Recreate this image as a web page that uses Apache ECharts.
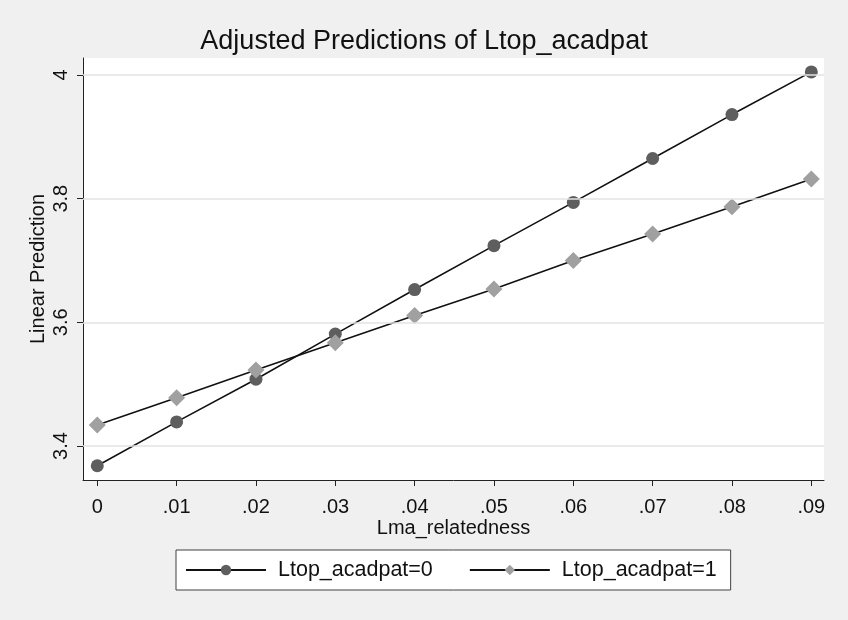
<!DOCTYPE html>
<html>
<head>
<meta charset="utf-8">
<script src="https://cdn.jsdelivr.net/npm/echarts@6/dist/echarts.min.js"></script>
<style>
  html, body { margin: 0; padding: 0; background: #f0f0f0; }
  #chart { width: 848px; height: 620px; }
</style>
</head>
<body>
<div id="chart"></div>
<script>
// Werte
const xValues = [0, 0.01, 0.02, 0.03, 0.04, 0.05, 0.06, 0.07, 0.08, 0.09];
const acadpat0 = [3.368, 3.439, 3.508, 3.581, 3.653, 3.724, 3.794, 3.865, 3.936, 4.005];
const acadpat1 = [3.434, 3.478, 3.523, 3.567, 3.611, 3.654, 3.700, 3.743, 3.787, 3.832];
const yTicks = [3.4, 3.6, 3.8, 4];
const seriesNames = ['Ltop_acadpat=0', 'Ltop_acadpat=1'];

const fontFamily = '"Liberation Sans", Arial, sans-serif';
const textColor = '#111';
const axisColor = '#222';

const chart = echarts.init(document.getElementById('chart'));

const toPairs = vals => xValues.map((x, i) => [x, vals[i]]);

const option = {
    backgroundColor: '#f0f0f0',
    textStyle: { fontFamily: fontFamily, color: textColor },
    title: {
        text: 'Adjusted Predictions of Ltop_acadpat',
        left: 'center',
        top: 28,
        padding: 0,
        textStyle: { fontFamily: fontFamily, fontSize: 27, fontWeight: 'normal', color: textColor }
    },
    grid: {
        left: 83, right: 24, top: 58, bottom: 140,
        show: true, backgroundColor: '#ffffff', borderWidth: 0
    },
    xAxis: {
        type: 'value',
        min: -0.0018,
        max: 0.0916,
        name: 'Lma_relatedness',
        nameLocation: 'middle',
        nameGap: 38,
        nameMoveOverlap: false,
        nameTextStyle: { fontFamily: fontFamily, fontSize: 20, color: textColor },
        axisLine: { show: true, onZero: false, lineStyle: { color: axisColor, width: 1 } },
        axisTick: { show: true, length: 6, lineStyle: { color: axisColor }, customValues: xValues },
        axisLabel: {
            customValues: xValues,
            margin: 17,
            fontSize: 20,
            color: textColor,
            fontFamily: fontFamily,
            formatter: v => v === 0 ? '0' : v.toFixed(2).replace(/^0\./, '.')
        },
        splitLine: { show: false }
    },
    yAxis: {
        type: 'value',
        min: 3.345,
        max: 4.0275,
        name: 'Linear Prediction',
        nameLocation: 'middle',
        nameGap: 35,
        nameMoveOverlap: false,
        nameTextStyle: { fontFamily: fontFamily, fontSize: 20, color: textColor },
        axisLine: { show: true, onZero: false, lineStyle: { color: axisColor, width: 1 } },
        axisTick: { show: true, length: 6, lineStyle: { color: axisColor }, customValues: yTicks },
        axisLabel: {
            customValues: yTicks,
            rotate: 90,
            margin: 12,
            fontSize: 20,
            color: textColor,
            fontFamily: fontFamily,
            formatter: v => String(v)
        },
        splitLine: { show: false }
    },
    legend: {
        data: seriesNames,
        left: 176,
        top: 550,
        orient: 'horizontal',
        backgroundColor: '#ffffff',
        borderColor: '#404040',
        borderWidth: 1,
        borderRadius: 0,
        padding: [9, 14, 9, 9],
        itemWidth: 80,
        itemHeight: 13,
        itemGap: 36,
        textStyle: { fontFamily: fontFamily, fontSize: 21.5, color: textColor, padding: [0, 0, 0, 7] }
    },
    series: [
        {
            name: 'grid',
            type: 'line',
            data: [],
            silent: true,
            z: 1,
            markLine: {
                silent: true,
                symbol: 'none',
                label: { show: false },
                lineStyle: { color: '#e3e3e3', width: 1.5, type: 'solid' },
                data: yTicks.map(v => ({ yAxis: v }))
            }
        },
        {
            name: seriesNames[0],
            type: 'line',
            data: toPairs(acadpat0),
            symbol: 'circle',
            symbolSize: 13,
            z: 3,
            itemStyle: { color: '#5e5e5e' },
            lineStyle: { color: '#111111', width: 1.6 }
        },
        {
            name: seriesNames[1],
            type: 'line',
            data: toPairs(acadpat1),
            symbol: 'diamond',
            symbolSize: 17,
            z: 3,
            itemStyle: { color: '#a0a0a0' },
            lineStyle: { color: '#111111', width: 1.6 }
        }
    ],
    animation: false
};

chart.setOption(option);
</script>
</body>
</html>
